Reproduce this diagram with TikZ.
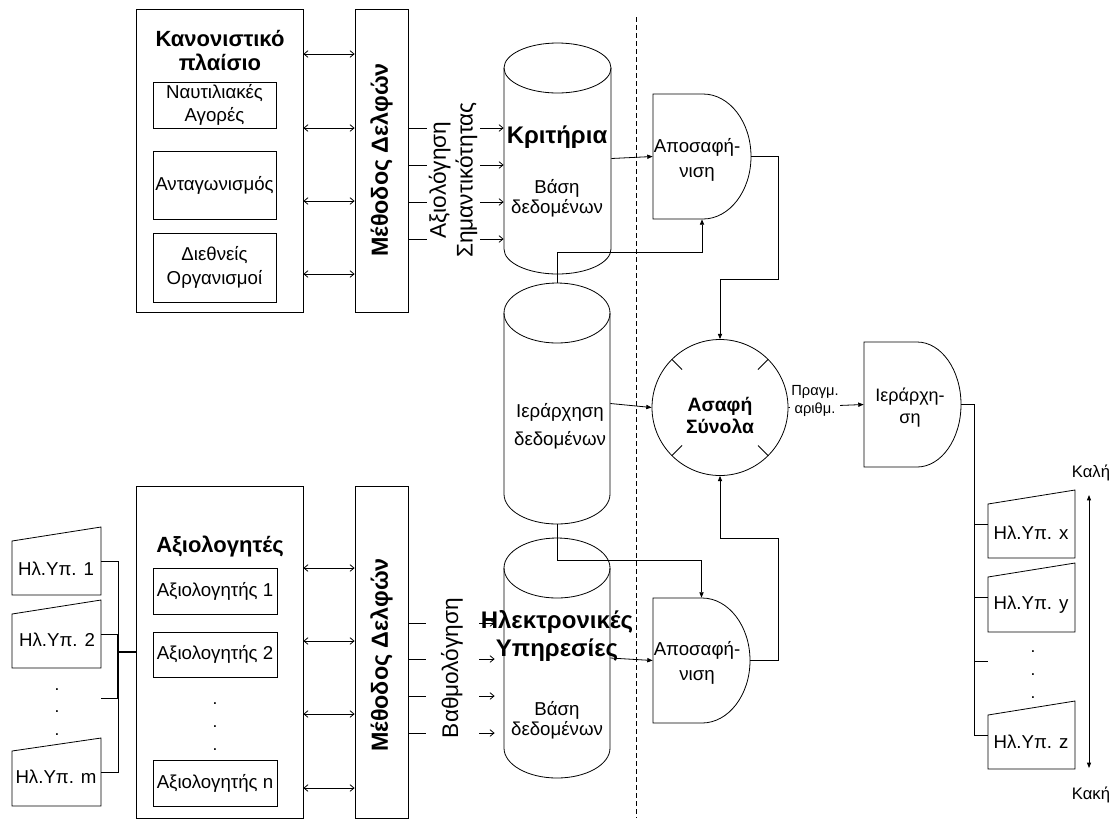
\documentclass[tikz,border=0pt]{standalone}
\usepackage{fontspec}
\setmainfont{Liberation Sans}
\usetikzlibrary{arrows.meta,calc}
% cylinder outline: left, right, top, bottom, cap radius
\newcommand\cylout[5]{%
  \draw ({(#1+#2)/2},{#3+#5}) ellipse [x radius={(#2-#1)/2}, y radius=#5];
  \draw (#1,{#3+#5}) -- (#1,{#4-#5})
    arc [start angle=180, end angle=0, x radius={(#2-#1)/2}, y radius=#5]
    -- (#2,{#3+#5});}
% delay-like outline: left, top, bottom, end of flat part, right
\newcommand\delayout[5]{%
  \draw (#4,#2) -- (#1,#2) -- (#1,#3) -- (#4,#3)
    arc [start angle=90, end angle=-90, x radius={#5-#4}, y radius={(#3-#2)/2}] -- cycle;}
% manual-input outline: left, right, top-left, top-right, bottom
\newcommand\docout[5]{%
  \draw (#1,#3) -- (#2,#4) -- (#2,#5) -- (#1,#5) -- cycle;}
\begin{document}
\begin{tikzpicture}[x=0.75pt,y=-0.75pt, line width=0.6pt,
  every node/.style={inner sep=0pt, align=center},
  sz/.style 2 args={minimum width=#1*0.75pt, minimum height=#2*0.75pt},
  plain/.style={font=\fontsize{14}{#1}\selectfont},
  plain/.default=17.5,
  ranktext/.style={font=\fontsize{13.5}{17}\selectfont},
  big/.style={font=\fontsize{17}{20}\selectfont},
  small/.style={font=\fontsize{11}{13.5}\selectfont},
  scale label/.style={font=\fontsize{12.5}{15}\selectfont},
  heading/.style={font=\bfseries\fontsize{16.5}{18}\selectfont},
  delphi/.style={font=\bfseries\fontsize{17.5}{20}\selectfont},
  dbheading/.style={font=\bfseries\fontsize{18}{21}\selectfont},
  fzheading/.style={font=\bfseries\fontsize{14.5}{16.5}\selectfont},
  panel/.style={draw},
  dbl/.style={{Straight Barb[length=3pt,width=5pt]}-{Straight Barb[length=3pt,width=5pt]}},
  feed/.style={-{Straight Barb[length=3pt,width=5pt]}},
  flow/.style={-{Triangle[length=4pt,width=3.2pt]}},
  mask/.style={fill=white, inner sep=1pt},
  dot/.style={font=\fontsize{13}{15}\selectfont, anchor=base},
]
\useasboundingbox (0,0) rectangle (1112,822);

% ---------- regulatory framework ----------
\node[panel, sz={167}{303}] (reg) at (219.5,160.5) {};
\node[heading] (regt) at (220,51) {Κανονιστικό\\πλαίσιο};
\node[panel, plain, sz={123}{46}] (naut) at (214.5,105) {Ναυτιλιακές\\Αγορές};
\node[panel, plain, sz={123}{68}] (comp) at (214.5,185) {Ανταγωνισμός};
\node[panel, plain=18, sz={123}{69}] (intl) at (214.5,267.5) {Διεθνείς\\Οργανισμοί};

\node[panel, sz={53}{303}] (delA) at (381.5,160.5) {};
\node[delphi, rotate=90] (delAt) at (381.5,160) {Μέθοδος Δελφών};
\foreach \y in {54,128,201,274}
  \draw[dbl] (reg.east |- 0,\y) -- (delA.west |- 0,\y);

% ---------- criteria database ----------
\node[sz={107}{231}] (crit) at (557.5,158.5) {};
\cylout{504}{611}{43}{274}{25}
\node[dbheading] (critt) at (557,137) {Κριτήρια};
\node[plain=15] (critdb) at (557,198) {Βάση\\δεδομένων};
\foreach \y in {128,165,202,239}
  \draw[feed] (delA.east |- 0,\y) -- (crit.west |- 0,\y);
\node[big, mask, rotate=90, sz={157}{53}] (imp) at (453,180) {Αξιολόγηση\\Σημαντικότητας};

% ---------- ranking database ----------
\node[sz={106}{241}] (hier) at (557,403.5) {};
\cylout{504}{610}{283}{524}{30}
\node[plain=21] (hiert) at (560,426) {Ιεράρχηση\\δεδομένων};

% ---------- e-services database ----------
\node[sz={106}{240}] (es) at (557,658) {};
\cylout{504}{610}{538}{778}{30}
\node[dbheading] (est) at (557,636) {Ηλεκτρονικές\\Υπηρεσίες};
\node[plain=15] (esdb) at (557,720) {Βάση\\δεδομένων};

% ---------- divider ----------
\draw[dash pattern=on 3.5pt off 2.5pt] (636,17) -- (636,818);

% ---------- defuzzification ----------
\node[sz={98}{125}] (dfa) at (702,156.5) {};
\delayout{653}{94}{219}{703}{751}
\node[plain=19] (dfat) at (697,160) {Αποσαφή-\\νιση};
\node[sz={97}{125}] (dfb) at (701.5,660.5) {};
\delayout{653}{598}{723}{702}{750}
\node[plain=19] (dfbt) at (697,663) {Αποσαφή-\\νιση};

% ---------- fuzzy sets ----------
\node[draw, circle, minimum size=102pt] (fz) at (720,407.5) {};
\foreach \a in {45,135,225,315}
  \draw (fz.\a) -- ($(fz.\a)!11pt!(fz.center)$);
\node[fzheading] (fzt) at (720,415) {Ασαφή\\Σύνολα};

% ---------- ranking ----------
\node[sz={97}{125}] (rank) at (912.5,404.5) {};
\delayout{864}{342}{467}{917}{961}
\node[ranktext] (rankt) at (910,407.5) {Ιεράρχη-\\ση};

% ---------- flows ----------
\draw[flow] (crit.east) -- (dfa.west);
\draw[flow] (hier.north) |- ($(dfa.south)+(0,33)$) -- (dfa.south);
\draw[flow] (dfa.east) -- ++(27,0) |- ($(fz.north)+(0,-60)$) -- (fz.north);
\draw[flow] (hier.east) -- (fz.west);
\draw[flow] (hier.south) |- ($(dfb.north)+(0,-37)$) -- (dfb.north);
\draw[flow] (es.east) -- (dfb.west);
\draw[flow] (dfb.east) -- ++(28,0) |- ($(fz.south)+(0,62)$) -- (fz.south);
\draw[flow] (fz.east) -- (rank.west);
\node[small, mask] (real) at (815,401) {Πραγμ.\\αριθμ.};

% ---------- ranked e-services ----------
\node[sz={87}{68}] (sx) at (1031.5,524) {};
\docout{988}{1075}{504}{490}{558}
\node[plain] (sxt) at (1031,533) {Ηλ.Υπ. x};
\node[sz={87}{69}] (sy) at (1031.5,597.5) {};
\docout{988}{1075}{577}{563}{632}
\node[plain] (syt) at (1031,605) {Ηλ.Υπ. y};
\node[sz={87}{68}] (sv) at (1031.5,735) {};
\docout{988}{1075}{715}{701}{769}
\node[plain] (svt) at (1031,742) {Ηλ.Υπ. z};
\foreach \y in {652,675,698}
  \node[dot] at (1033,\y) {.};

\coordinate (rbus) at ($(rank.east)+(13,0)$);
\coordinate (rdot) at (988,661);
\draw (rank.east) -- (rbus) |- (sv.west);
\draw (rbus |- sx.west) -- (sx.west);
\draw (rbus |- sy.west) -- (sy.west);
\draw (rbus |- rdot) -- (rdot);

\node[scale label] (good) at (1091,473) {Καλή};
\node[scale label] (bad) at (1091,795) {Κακή};
\coordinate (goodend) at (1089,495);
\coordinate (badend) at (1089,768);
\draw[{Triangle[length=4pt,width=3pt]}-{Triangle[length=4pt,width=3pt]}] (goodend) -- (badend);

% ---------- evaluators ----------
\node[panel, sz={167}{332}] (eval) at (219.5,652) {};
\node[heading] (evalt) at (220,547) {Αξιολογητές};
\node[panel, plain, sz={124}{46}] (e1) at (215,591) {Αξιολογητής 1};
\node[panel, plain, sz={124}{45}] (e2) at (215,654.5) {Αξιολογητής 2};
\node[panel, plain, sz={124}{46}] (en) at (215,783) {Αξιολογητής n};
\foreach \y in {704,727,750}
  \node[dot] at (215,\y) {.};

\node[panel, sz={53}{332}] (delB) at (381.5,652) {};
\node[delphi, rotate=90] (delBt) at (381.5,655) {Μέθοδος Δελφών};
\foreach \y in {568,641,714,788}
  \draw[dbl] (eval.east |- 0,\y) -- (delB.west |- 0,\y);
\foreach \y in {623,659,696,733}
  \draw[feed] (delB.east |- 0,\y) -- ($(es.west |- 0,\y)+(-9,0)$);
\node[big, mask, rotate=90, sz={140}{53}] (score) at (452,668) {Βαθμολόγηση};

% ---------- e-services under evaluation ----------
\node[sz={89}{68}] (s1) at (56.5,561) {};
\docout{12}{101}{541}{527}{595}
\node[plain] (s1t) at (56,569) {Ηλ.Υπ. 1};
\node[sz={89}{68}] (s2) at (56.5,634) {};
\docout{12}{101}{614}{600}{668}
\node[plain] (s2t) at (57,640) {Ηλ.Υπ. 2};
\node[sz={89}{68}] (sm) at (56.5,772) {};
\docout{12}{101}{751}{738}{806}
\node[plain] (smt) at (56,777) {Ηλ.Υπ. m};
\foreach \y in {690,712,735}
  \node[dot] at (57,\y) {.};

\coordinate (ldot) at (101,698);
\coordinate (lbus) at ($(s1.east)+(17,0)$);
\draw (s1.east) -| (lbus |- sm.east) -- (sm.east);
\draw (s2.east) -- (lbus |- s2.east);
\draw (ldot) -- (lbus |- ldot);
\draw[line width=1.4pt] (lbus |- s2.east) -- (lbus |- ldot);
\draw[line width=1.4pt] (lbus |- eval.west) -- (eval.west);
\end{tikzpicture}
\end{document}
